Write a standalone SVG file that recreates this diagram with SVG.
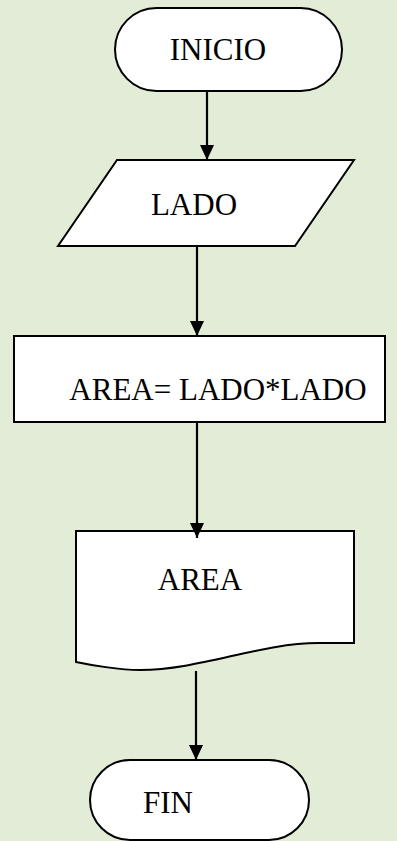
<svg xmlns="http://www.w3.org/2000/svg" width="397" height="841" viewBox="0 0 397 841">
<style>
.s{fill:#fff;stroke:#000;stroke-width:2}
.t{font-family:"Liberation Serif","Times New Roman",serif;font-size:31px;fill:#000}
.c{stroke:#000;stroke-width:2.2;fill:none}
</style>
<defs>
<marker id="a" markerWidth="15" markerHeight="14" refX="15" refY="7" orient="auto" markerUnits="userSpaceOnUse" viewBox="0 0 15 14">
<path d="M0,0 L15,7 L0,14 Z" fill="#000"/>
</marker>
</defs>
<rect width="397" height="841" fill="#e3ecd6"/>
<g id="inicio">
<rect class="s" x="115" y="8" width="227" height="83" rx="41.5"/>
<text class="t" x="218" y="60" text-anchor="middle">INICIO</text>
</g>
<g id="lado">
<polygon class="s" points="117,160 354,160 295,246 58,246"/>
<text class="t" x="194" y="215" text-anchor="middle">LADO</text>
</g>
<g id="area-calc">
<rect class="s" x="14" y="336" width="371" height="86"/>
<text class="t" x="218" y="400" text-anchor="middle">AREA= LADO*LADO</text>
</g>
<g id="area-out">
<path class="s" d="M76,531 H354 V643 H318 C260,643 200,670 140,670 C120,670 90,665 76,662 Z"/>
<text class="t" x="200" y="590" text-anchor="middle">AREA</text>
</g>
<g id="fin">
<rect class="s" x="90" y="760" width="219" height="80" rx="40"/>
<text class="t" x="168" y="813" text-anchor="middle">FIN</text>
</g>
<g id="connectors">
<line class="c" x1="207" y1="92" x2="207" y2="160" marker-end="url(#a)"/>
<line class="c" x1="197" y1="247" x2="197" y2="336" marker-end="url(#a)"/>
<line class="c" x1="197" y1="423" x2="197" y2="538" marker-end="url(#a)"/>
<line class="c" x1="196" y1="671" x2="196" y2="760" marker-end="url(#a)"/>
</g>
</svg>
